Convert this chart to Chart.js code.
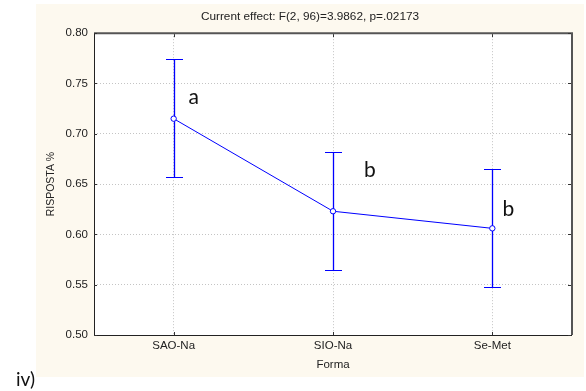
<!DOCTYPE html>
<html>
<head>
<meta charset="utf-8">
<script src="https://cdn.jsdelivr.net/npm/chart.js@4/dist/chart.umd.min.js"></script>
<style>
  html, body { margin: 0; padding: 0; background: #ffffff; }
  #wrap { width: 586px; height: 391px; }
</style>
</head>
<body>
<div id="wrap"><canvas id="c" width="586" height="391"></canvas></div>
<script>
// Group means of RISPOSTA % by Forma, with their confidence limits
const categories = ['SAO-Na', 'SIO-Na', 'Se-Met'];
const means = [0.715, 0.623, 0.606];
const lowerLimits = [0.657, 0.565, 0.548];
const upperLimits = [0.774, 0.682, 0.665];
const groupLetters = ['a', 'b', 'b'];
const yTickValues = [0.50, 0.55, 0.60, 0.65, 0.70, 0.75, 0.80];

// where each group letter sits, in pixels from its mean point (baseline, centred)
const letterOffsets = [[20, -15], [37, -34], [16, -12]];

const BLUE = '#0000ff';
const SANS = "'Liberation Sans', Arial, sans-serif";
const LETTER_FONT = "21px Lato, 'Open Sans', sans-serif";

const panelPlugin = {
  id: 'panel',
  beforeDraw(chart) {
    const ctx = chart.ctx;
    ctx.save();
    ctx.fillStyle = '#fdf9ef';
    ctx.fillRect(36, 4, 548, 373);
    ctx.fillStyle = '#ffffff';
    const a = chart.chartArea;
    ctx.fillRect(a.left, a.top, a.right - a.left, a.bottom - a.top);
    ctx.restore();
  }
};

const framePlugin = {
  id: 'frame',
  beforeDatasetsDraw(chart) {
    const ctx = chart.ctx;
    const a = chart.chartArea;
    const x = chart.scales.x, y = chart.scales.y;
    ctx.save();
    // top and right edges
    ctx.strokeStyle = '#555555';
    ctx.lineWidth = 2;
    ctx.beginPath();
    ctx.moveTo(a.left, a.top);
    ctx.lineTo(a.right, a.top);
    ctx.lineTo(a.right, a.bottom);
    ctx.stroke();
    // left and bottom edges
    ctx.strokeStyle = '#222222';
    ctx.lineWidth = 1;
    ctx.beginPath();
    ctx.moveTo(Math.round(a.left) + 0.5, a.top);
    ctx.lineTo(Math.round(a.left) + 0.5, Math.round(a.bottom) + 0.5);
    ctx.lineTo(a.right, Math.round(a.bottom) + 0.5);
    ctx.stroke();
    // short inward tick marks
    ctx.strokeStyle = '#333333';
    ctx.lineWidth = 1;
    ctx.beginPath();
    yTickValues.forEach(v => {
      const py = Math.round(y.getPixelForValue(v)) + 0.5;
      ctx.moveTo(a.left, py); ctx.lineTo(a.left + 3, py);
      ctx.moveTo(a.right - 1, py); ctx.lineTo(a.right - 4, py);
    });
    categories.forEach((c, i) => {
      const px = Math.round(x.getPixelForValue(i)) + 0.5;
      ctx.moveTo(px, a.bottom); ctx.lineTo(px, a.bottom - 3);
      ctx.moveTo(px, a.top + 1); ctx.lineTo(px, a.top + 4);
    });
    ctx.stroke();
    // confidence interval whiskers
    ctx.strokeStyle = BLUE;
    categories.forEach((c, i) => {
      const px = Math.round(x.getPixelForValue(i)) + 0.5;
      const yl = Math.round(y.getPixelForValue(lowerLimits[i])) + 0.5;
      const yu = Math.round(y.getPixelForValue(upperLimits[i])) + 0.5;
      ctx.lineWidth = 1.3;
      ctx.beginPath();
      ctx.moveTo(px, yu); ctx.lineTo(px, yl);
      ctx.stroke();
      ctx.lineWidth = 1;
      ctx.beginPath();
      ctx.moveTo(px - 8.5, yu); ctx.lineTo(px + 8.5, yu);
      ctx.moveTo(px - 8.5, yl); ctx.lineTo(px + 8.5, yl);
      ctx.stroke();
    });
    ctx.restore();
  }
};

const lettersPlugin = {
  id: 'letters',
  afterDraw(chart) {
    const ctx = chart.ctx;
    const x = chart.scales.x, y = chart.scales.y;
    ctx.save();
    ctx.fillStyle = '#111111';
    ctx.font = LETTER_FONT;
    ctx.textAlign = 'center';
    ctx.textBaseline = 'alphabetic';
    groupLetters.forEach((t, i) => {
      const px = x.getPixelForValue(i) + letterOffsets[i][0];
      const py = y.getPixelForValue(means[i]) + letterOffsets[i][1];
      ctx.fillText(t, px, py);
    });
    // panel label
    ctx.textAlign = 'left';
    ctx.font = "19px Lato, 'Open Sans', sans-serif";
    ctx.fillText('iv)', 16, 386);
    ctx.restore();
  }
};

new Chart(document.getElementById('c'), {
  type: 'line',
  data: {
    labels: categories,
    datasets: [{
      data: means,
      borderColor: BLUE,
      borderWidth: 1,
      tension: 0,
      fill: false,
      pointRadius: 2.7,
      pointBorderWidth: 1,
      pointBorderColor: BLUE,
      pointBackgroundColor: '#ffffff'
    }]
  },
  options: {
    responsive: false,
    animation: false,
    events: [],
    layout: { padding: { left: 36, right: 2, top: 0, bottom: 0 } },
    plugins: {
      legend: { display: false },
      tooltip: { enabled: false },
      title: {
        display: true,
        text: 'Current effect: F(2, 96)=3.9862, p=.02173',
        color: '#222222',
        font: { family: SANS, size: 11.8, weight: 'normal', lineHeight: 1.2 },
        padding: { top: 10, bottom: 9 }
      }
    },
    scales: {
      x: {
        type: 'category',
        offset: true,
        grid: { color: '#c4c4c4', lineWidth: 1, drawTicks: false },
        border: { display: false, dash: [1, 2] },
        ticks: {
          color: '#222222',
          padding: 4,
          font: { family: SANS, size: 11.5, lineHeight: 1.2 }
        },
        title: {
          display: true,
          text: 'Forma',
          color: '#222222',
          font: { family: SANS, size: 11.5, lineHeight: 1.2 },
          padding: { top: 0, bottom: 19 }
        },
        afterFit(s) { s.height = 56; }
      },
      y: {
        min: 0.5,
        max: 0.8,
        grid: { color: '#c4c4c4', lineWidth: 1, drawTicks: false },
        border: { display: false, dash: [1, 2] },
        afterBuildTicks(s) { s.ticks = yTickValues.map(v => ({ value: v })); },
        ticks: {
          color: '#222222',
          padding: 6,
          font: { family: SANS, size: 11.5, lineHeight: 1.2 },
          callback: v => Number(v).toFixed(2)
        },
        title: {
          display: true,
          text: 'RISPOSTA %',
          color: '#222222',
          font: { family: SANS, size: 10.5, lineHeight: 1.2 },
          padding: { top: 9, bottom: 0 }
        },
        afterFit(s) { s.width = 58; }
      },
      yRight: {
        position: 'right',
        display: true,
        grid: { display: false },
        border: { display: false },
        ticks: { display: false },
        afterFit(s) { s.width = 12; }
      }
    }
  },
  plugins: [panelPlugin, framePlugin, lettersPlugin]
});
</script>
</body>
</html>
